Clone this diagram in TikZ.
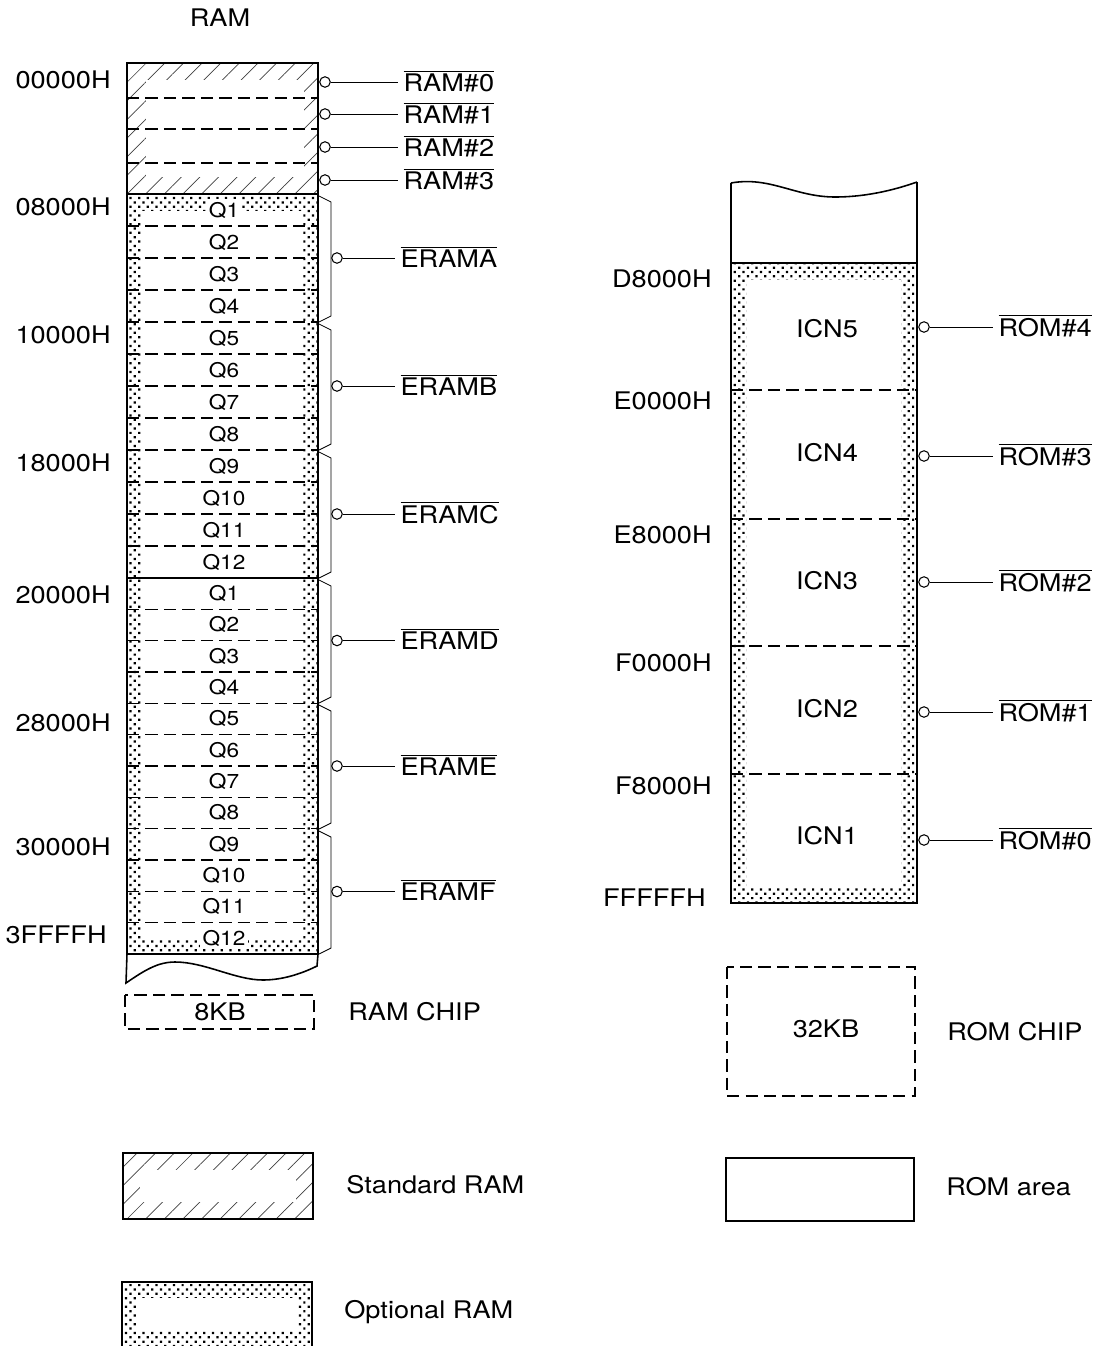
\documentclass[tikz,border=0pt]{standalone}
\usepackage{fontspec}
\setmainfont{TeX Gyre Heros}[FakeStretch=1.12]
\usetikzlibrary{patterns.meta}

\newcommand{\sigbar}[1]{$\overline{\hbox{#1}}$}

\tikzset{
  box/.style={line width=1.1pt},
  wave/.style={line width=0.9pt},
  sep/.style={line width=0.6pt, dash pattern=on 7pt off 3.5pt},
  wire/.style={line width=0.5pt},
  bubble/.style={circle, draw, line width=0.6pt, fill=white, inner sep=0pt, minimum size=0.21cm},
  optdots/.style={pattern={Dots[radius=0.9pt, distance=3.5pt, angle=45]}},
  stdhatch/.style={pattern={Lines[angle=45, distance=7.5pt, line width=0.4pt]}, pattern color=black!75},
  qlab/.style={font=\fontsize{11.5}{13}\selectfont, inner sep=1.5pt, fill=white},
  sig/.style={anchor=base west, inner sep=3pt},
  adr/.style={anchor=east, inner sep=0pt},
  legend/.style={anchor=west, inner sep=0pt},
}

\begin{document}
\begin{tikzpicture}[x=0.02cm, y=-0.02cm, font=\fontsize{13.8}{16}\selectfont]

  \useasboundingbox (0,0) rectangle (1109,1346);

  % ==========================================
  % RAM MAP (LEFT)
  % ==========================================
  \node (ramtitle) at (220,18) {RAM};

  % hatched band: standard RAM, dotted band: optional RAM
  \fill[stdhatch] (127,63) rectangle (318,194);
  \fill[white] (146,80) rectangle (304,177);
  \fill[optdots] (127,194) rectangle (318,954);
  \fill[white] (142,211) rectangle (302,940);

  % chip boundaries
  \foreach \y in {98,129,163}
    \draw[sep] (127,\y) -- (318,\y);
  \foreach \k in {1,...,11} {
    \draw[sep] (127,{194+32*\k}) -- (318,{194+32*\k});
    \draw[sep] (127,{578+31.33*\k}) -- (318,{578+31.33*\k});
  }

  % chip names
  \foreach \k in {1,...,12} {
    \node[qlab] (qa\k) at (224,{178+32*\k}) {Q\k};
    \node[qlab] (qb\k) at (224,{562.3+31.33*\k}) {Q\k};
  }

  % outline with torn bottom edge
  \draw[box] (127,63) rectangle (318,954);
  \draw[box] (127,194) -- (318,194);
  \draw[box] (127,578) -- (318,578);
  \draw[wave] (127,954) -- (126,983) .. controls (145,970) and (158,962) .. (175,962)
    .. controls (205,962) and (235,980) .. (263,980)
    .. controls (285,980) and (305,972) .. (317,966) -- (318,954);

  % addresses
  \node[adr] (r00000) at (111,80) {00000H};
  \node[adr] (r08000) at (111,207) {08000H};
  \node[adr] (r10000) at (111,335) {10000H};
  \node[adr] (r18000) at (111,463) {18000H};
  \node[adr] (r20000) at (111,595) {20000H};
  \node[adr] (r28000) at (111,723) {28000H};
  \node[adr] (r30000) at (111,847) {30000H};
  \node[adr] (r3ffff) at (107,935) {3FFFFH};

  % chip selects of the standard RAM
  \foreach \i/\y in {0/82,1/114,2/147,3/180} {
    \node[bubble] (rcs\i) at (325,\y) {};
    \node[sig] (rlab\i) at (398,{\y+9}) {\sigbar{RAM\#\i}};
    \draw[wire] (rcs\i) -- (rcs\i -| rlab\i.west);
  }

  % chip enables of the optional RAM (one brace per 4 chips)
  \foreach \t/\b/\n in {194/322/A,322/450/B,450/578/C,578/703/D,703/829/E,829/954/F} {
    \draw[wire] (319,{\t+2}) -- (331,{\t+8}) -- (331,{\b-6}) -- (319,\b);
    \node[bubble] (ecs\n) at (337,{(\t+\b)/2}) {};
    \node[sig] (elab\n) at (395,{(\t+\b)/2+9}) {\sigbar{ERAM\n}};
    \draw[wire] (ecs\n) -- (ecs\n -| elab\n.west);
  }

  % legend
  \draw[sep] (125,995) rectangle (314,1029);
  \node (ramchip) at (220,1012) {8KB};
  \node[legend] (ramchiplab) at (348,1012) {RAM CHIP};

  \fill[stdhatch] (123,1153) rectangle (313,1219);
  \fill[white] (140,1170) rectangle (296,1202);
  \draw[box] (123,1153) rectangle (313,1219);
  \node[legend] (stdlab) at (346,1185) {Standard RAM};

  \fill[optdots] (122,1282) rectangle (312,1350);
  \fill[white] (137,1298) rectangle (297,1331);
  \draw[box] (122,1350) -- (122,1282) -- (312,1282) -- (312,1350);
  \node[legend] (optlab) at (344,1312) {Optional RAM};

  % ==========================================
  % ROM MAP (RIGHT)
  % ==========================================
  \fill[optdots] (731,263) rectangle (917,903);
  \fill[white] (747,280) rectangle (901,887);
  \foreach \y in {390,519,646,774}
    \draw[sep] (731,\y) -- (917,\y);

  \draw[box] (731,183) -- (731,903) -- (917,903) -- (917,182);
  \draw[box] (731,263) -- (917,263);
  \draw[wave] (731,183) .. controls (770,176) and (795,197) .. (835,197)
    .. controls (870,197) and (900,188) .. (917,182);

  % addresses
  \node[adr] (rd8000) at (712,279) {D8000H};
  \node[adr] (re0000) at (712,401) {E0000H};
  \node[adr] (re8000) at (712,535) {E8000H};
  \node[adr] (rf0000) at (712,663) {F0000H};
  \node[adr] (rf8000) at (712,786) {F8000H};
  \node[adr] (rfffff) at (706,898) {FFFFFH};

  % ROM chips and their selects
  \foreach \i/\y in {5/329,4/453,3/581,2/709,1/836}
    \node (icn\i) at (827,\y) {ICN\i};
  \foreach \i/\y in {4/327,3/456,2/582,1/712,0/840} {
    \node[bubble] (ocs\i) at (924,\y) {};
    \node[sig] (olab\i) at (993,{\y+9}) {\sigbar{ROM\#\i}};
    \draw[wire] (ocs\i) -- (ocs\i -| olab\i.west);
  }

  % legend
  \draw[sep] (727,967) rectangle (915,1096);
  \node (romchip) at (826,1029) {32KB};
  \node[legend] (romchiplab) at (947,1032) {ROM CHIP};

  \draw[box] (726,1158) rectangle (914,1221);
  \node[legend] (romlab) at (946,1187) {ROM area};

\end{tikzpicture}
\end{document}
